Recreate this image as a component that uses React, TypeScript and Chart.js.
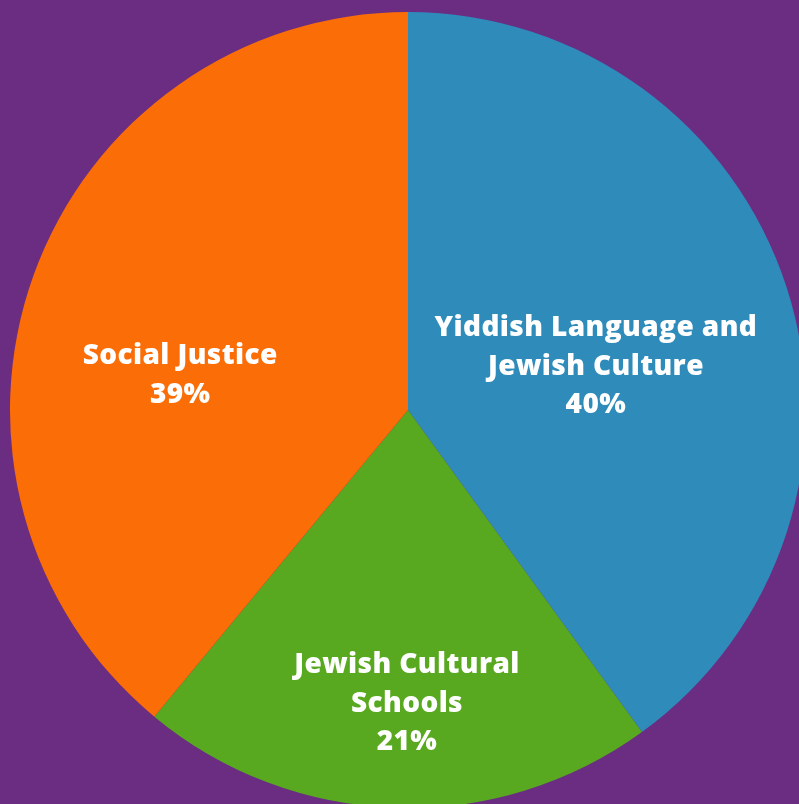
import React, { useEffect, useRef } from "react";
import { Chart, registerables } from "chart.js";

Chart.register(...registerables);

const categories: string[][] = [
  ["Yiddish Language and", "Jewish Culture"],
  ["Jewish Cultural", "Schools"],
  ["Social Justice"],
];
const values: number[] = [40, 21, 39];
const colors: string[] = ["#2E8BBA", "#58A91F", "#FA6D07"];
const background = "#6B2D82";
// label placement relative to each slice: fraction of radius, angle offset (deg)
const labelRadius: number[] = [0.486, 0.73, 0.58];
const labelAngleOffset: number[] = [4.25, -1.6, -10.5];

const FONT = "800 28px 'Open Sans', sans-serif";
const LINE_H = 38.5;
const BASELINE_SHIFT = 3;

const labelPlugin = {
  id: "sliceLabels",
  afterDatasetsDraw(chart: any) {
    const ctx = chart.ctx;
    const meta = chart.getDatasetMeta(0);
    const total = values.reduce((a, b) => a + b, 0);
    ctx.save();
    ctx.fillStyle = "#ffffff";
    ctx.font = FONT;
    (ctx as any).letterSpacing = "0.4px";
    ctx.textAlign = "center";
    ctx.textBaseline = "middle";
    meta.data.forEach((arc: any, i: number) => {
      const mid = (arc.startAngle + arc.endAngle) / 2 + (labelAngleOffset[i] * Math.PI) / 180;
      const r = arc.outerRadius * labelRadius[i];
      const cx = arc.x + Math.cos(mid) * r;
      const cy = arc.y + Math.sin(mid) * r + BASELINE_SHIFT;
      const lines = [...categories[i], Math.round((values[i] / total) * 100) + "%"];
      const start = cy - ((lines.length - 1) * LINE_H) / 2;
      lines.forEach((t, j) => ctx.fillText(t, cx, start + j * LINE_H));
    });
    ctx.restore();
  },
};

export default function App() {
  const ref = useRef<HTMLCanvasElement | null>(null);
  useEffect(() => {
    if (!ref.current) return;
    const chart = new Chart(ref.current, {
      type: "pie",
      data: {
        labels: categories.map((c) => c.join(" ")),
        datasets: [
          {
            data: values,
            backgroundColor: colors,
            borderWidth: 0,
          },
        ],
      },
      options: {
        responsive: false,
        animation: false,
        layout: { padding: 0 },
        plugins: {
          legend: { display: false },
          tooltip: { enabled: false },
        },
      },
      plugins: [labelPlugin],
    });
    return () => chart.destroy();
  }, []);
  return (
    <div
      style={{
        position: "fixed",
        left: 0,
        top: 0,
        width: 799,
        height: 804,
        overflow: "hidden",
        background,
      }}
    >
      <canvas
        ref={ref}
        width={796}
        height={796}
        style={{ position: "absolute", left: 10, top: 12, width: 796, height: 796 }}
      />
    </div>
  );
}
